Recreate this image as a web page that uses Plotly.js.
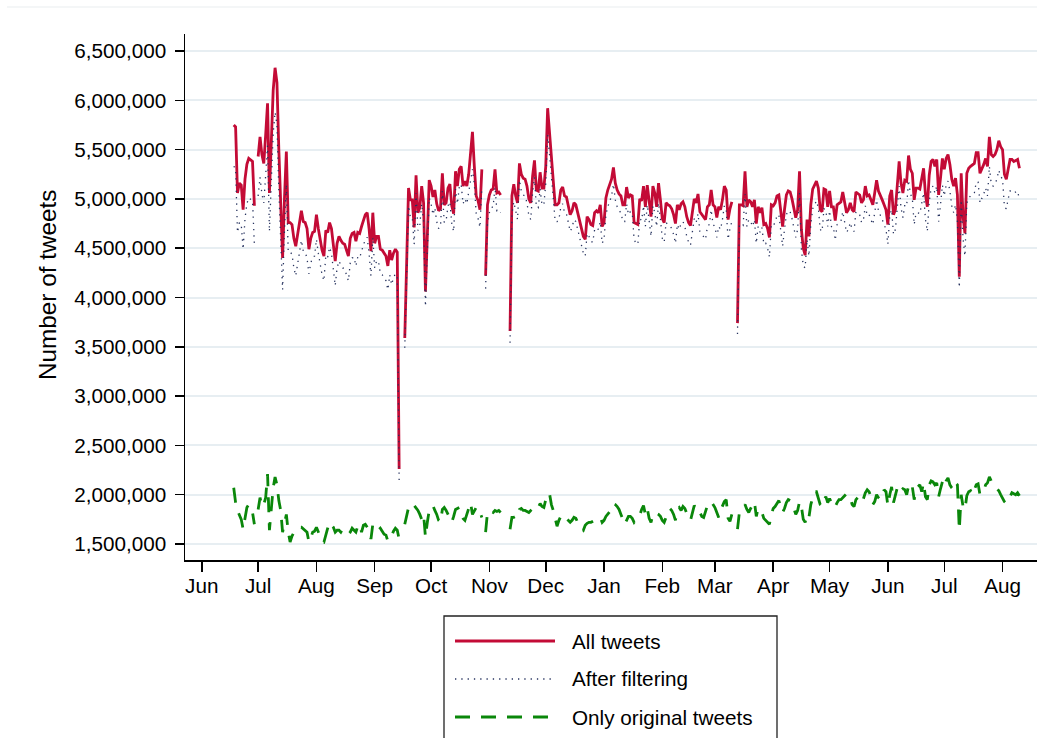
<!DOCTYPE html>
<html>
<head>
<meta charset="utf-8">
<script src="https://cdn.plot.ly/plotly-3.0.1.min.js"></script>
<style>html,body{margin:0;padding:0;background:#fff;}#chart{width:1049px;height:738px;}</style>
</head>
<body>
<div id="chart"></div>
<script>
// Daily series, first day = START_DATE, values in millions of tweets (null = missing day)
const START_DATE = '2018-06-18';

const allTweets = [
5.75,5.73,5.06,5.16,5.14,4.89,5.20,5.35,5.41,5.39,
5.38,4.93,null,5.43,5.63,5.45,5.36,5.65,5.97,5.06,
5.60,6.10,6.33,6.18,5.50,4.90,4.40,5.00,5.48,4.76,
4.76,4.74,4.60,4.52,4.65,4.80,4.88,4.77,4.76,4.70,
4.49,4.60,4.66,4.67,4.84,4.70,4.59,4.48,4.42,4.68,
4.66,4.76,4.70,4.55,4.37,4.55,4.62,4.58,4.55,4.54,
4.48,4.42,4.60,4.65,4.66,4.57,4.66,4.65,4.72,4.79,
4.84,4.86,4.70,4.47,4.86,4.55,4.62,4.62,4.49,4.48,
4.45,4.42,4.32,4.48,4.38,4.45,4.49,4.46,2.26,null,
null,3.59,4.40,5.11,4.99,4.99,4.71,5.24,4.86,4.91,
5.13,4.96,4.06,4.70,5.19,5.13,5.02,5.09,4.95,4.88,
4.90,5.26,4.94,4.96,5.11,5.15,4.93,4.85,5.28,5.13,
5.30,5.33,5.13,5.18,5.13,5.25,5.45,5.68,5.33,5.03,
4.98,4.89,5.30,null,4.22,4.94,5.04,5.09,5.10,5.30,
5.06,5.07,5.04,null,null,null,null,3.66,5.03,5.15,
5.03,4.96,5.36,5.25,5.21,5.20,5.13,5.00,4.96,5.23,
5.39,5.09,5.08,5.27,5.11,5.11,5.33,5.92,5.64,5.35,
5.18,4.94,4.94,4.96,5.09,5.12,5.03,5.02,4.93,4.84,
4.88,4.96,4.94,4.86,4.78,4.70,4.62,4.59,4.82,4.79,
4.74,4.73,4.86,4.88,4.86,4.94,4.72,4.76,5.01,5.09,
5.15,5.20,5.32,5.16,5.09,5.05,5.03,4.94,4.94,5.12,
5.01,5.04,5.03,4.76,4.75,4.74,5.00,4.98,5.13,4.92,
5.14,4.95,4.82,5.13,5.06,4.92,5.16,4.99,4.80,4.76,
4.96,4.94,4.93,4.90,4.84,4.75,4.94,4.89,4.95,4.97,
4.92,4.82,4.76,4.73,4.86,5.00,4.96,5.05,4.87,4.84,
4.82,4.79,4.92,4.94,5.09,4.94,4.92,4.81,4.92,4.89,
4.99,5.13,5.09,4.79,4.90,4.97,null,null,3.74,4.94,
4.94,4.93,5.28,4.92,4.99,4.97,4.92,4.99,4.75,4.92,
4.86,4.91,4.74,4.75,4.70,4.61,4.94,4.93,4.96,5.03,
5.04,4.86,4.72,4.89,5.04,5.08,5.07,5.00,4.90,4.81,
4.89,5.28,4.69,4.50,4.43,4.79,4.62,4.94,5.10,5.15,
5.18,5.11,4.89,4.87,5.10,5.09,4.92,5.08,4.92,4.92,
4.78,4.94,4.96,4.97,5.07,4.96,4.86,4.89,4.96,4.89,
4.87,5.07,5.05,5.04,4.96,4.99,5.13,5.03,5.04,4.99,
4.94,5.06,5.19,5.08,5.04,4.99,4.94,4.89,4.74,5.03,
5.09,4.84,4.89,5.11,5.38,5.16,5.06,5.19,5.18,5.44,
5.30,5.26,4.99,5.11,5.11,5.10,5.20,5.31,5.04,4.92,
5.24,5.38,5.40,5.33,5.40,5.04,5.21,5.41,5.30,5.41,
5.45,5.35,5.20,5.13,5.21,5.04,4.21,5.26,4.82,4.65,
5.26,5.31,5.33,5.35,5.36,5.47,5.47,5.26,5.30,5.35,
5.41,5.33,5.63,5.45,5.43,5.45,5.50,5.59,5.53,5.50,
5.25,5.20,5.30,5.40,5.40,5.38,5.39,5.40,5.31
];

const afterFiltering = [
5.33,5.31,4.66,4.76,4.74,4.49,4.80,4.95,5.01,4.99,
4.98,4.54,null,5.03,5.22,5.05,4.96,5.24,5.54,4.67,
5.19,5.67,5.88,5.75,5.09,4.50,4.08,4.68,5.15,4.46,
4.46,4.44,4.30,4.22,4.35,4.50,4.58,4.47,4.46,4.40,
4.24,4.35,4.41,4.42,4.59,4.45,4.34,4.23,4.17,4.43,
4.41,4.51,4.45,4.30,4.12,4.30,4.37,4.33,4.30,4.29,
4.23,4.17,4.35,4.40,4.41,4.32,4.41,4.40,4.47,4.54,
4.59,4.61,4.45,4.22,4.61,4.30,4.37,4.37,4.24,4.23,
4.20,4.17,4.08,4.23,4.13,4.20,4.24,4.21,2.15,null,
null,3.49,4.25,4.93,4.81,4.81,4.54,5.06,4.68,4.73,
4.95,4.78,3.91,4.53,5.01,4.95,4.84,4.91,4.77,4.70,
4.72,5.08,4.76,4.78,4.93,4.97,4.75,4.67,5.10,4.95,
5.12,5.15,4.95,5.00,4.95,5.07,5.20,5.30,5.15,4.85,
4.80,4.71,5.12,null,4.09,4.76,4.86,4.91,4.92,5.12,
4.88,4.89,4.86,null,null,null,null,3.54,4.85,4.97,
4.86,4.79,5.19,5.08,5.04,5.03,4.96,4.83,4.79,5.06,
5.22,4.92,4.91,5.10,4.94,4.94,5.16,5.65,5.45,5.18,
5.01,4.77,4.77,4.79,4.92,4.95,4.86,4.85,4.76,4.67,
4.71,4.79,4.77,4.69,4.61,4.53,4.45,4.42,4.65,4.62,
4.57,4.56,4.69,4.71,4.69,4.77,4.55,4.59,4.84,4.92,
4.98,5.03,5.15,4.99,4.92,4.88,4.86,4.77,4.77,4.95,
4.84,4.87,4.86,4.59,4.55,4.54,4.80,4.78,4.93,4.72,
4.94,4.75,4.62,4.93,4.86,4.72,4.96,4.79,4.60,4.56,
4.76,4.74,4.73,4.70,4.64,4.55,4.74,4.69,4.75,4.77,
4.72,4.62,4.56,4.53,4.66,4.80,4.76,4.85,4.67,4.64,
4.62,4.59,4.72,4.74,4.89,4.74,4.72,4.61,4.72,4.69,
4.79,4.93,4.89,4.59,4.70,4.77,null,null,3.63,4.74,
4.74,4.73,5.05,4.72,4.79,4.77,4.72,4.79,4.55,4.72,
4.66,4.71,4.54,4.55,4.50,4.41,4.74,4.73,4.76,4.83,
4.84,4.66,4.52,4.69,4.84,4.88,4.87,4.80,4.70,4.61,
4.69,5.06,4.49,4.32,4.30,4.59,4.42,4.74,4.90,4.95,
4.98,4.91,4.69,4.67,4.90,4.89,4.72,4.88,4.72,4.72,
4.58,4.74,4.76,4.77,4.87,4.76,4.66,4.69,4.76,4.69,
4.67,4.87,4.85,4.84,4.76,4.79,4.93,4.83,4.84,4.79,
4.74,4.86,4.99,4.88,4.84,4.79,4.74,4.69,4.54,4.83,
4.89,4.64,4.69,4.91,5.13,4.91,4.81,4.94,4.93,5.19,
5.05,5.01,4.74,4.86,4.86,4.85,4.95,5.06,4.79,4.67,
4.97,5.11,5.13,5.06,5.13,4.77,4.94,5.14,5.03,5.14,
5.18,5.08,4.93,4.86,4.94,4.77,4.10,4.99,4.60,4.42,
4.96,5.01,5.03,5.05,5.06,5.17,5.17,4.96,5.00,5.05,
5.11,5.03,5.33,5.15,5.13,5.15,5.20,5.29,5.23,5.20,
4.92,4.90,5.00,5.08,5.08,5.06,5.07,5.08,4.99
];

const originalOnly = [
2.07,1.92,1.84,1.80,1.75,1.65,1.78,1.87,1.90,1.85,
1.82,1.70,null,1.85,1.97,1.88,1.90,1.97,2.21,1.64,
1.84,2.07,2.18,2.10,1.94,1.84,1.62,1.70,1.80,1.62,
1.52,1.58,1.62,1.65,1.66,1.67,1.67,1.65,1.64,1.62,
1.52,1.56,1.62,1.63,1.67,1.62,1.57,1.53,1.52,1.60,
1.66,1.72,1.70,1.67,1.62,1.64,1.64,1.62,1.65,1.64,
1.62,1.60,1.62,1.66,1.64,1.62,1.68,1.70,1.62,1.69,
1.70,1.67,1.64,1.55,1.70,1.68,1.67,1.64,1.66,1.63,
1.60,1.59,1.53,1.56,1.58,1.63,1.66,1.64,1.55,null,
null,1.70,1.80,1.87,1.85,1.86,1.89,1.87,1.84,1.80,
1.75,1.80,1.57,1.72,1.84,1.87,1.89,1.84,1.80,1.74,
1.72,1.85,1.87,1.84,1.80,1.76,1.72,1.78,1.85,1.86,
1.87,1.80,1.76,1.74,1.80,1.86,1.92,1.80,1.84,1.87,
1.87,1.82,1.77,null,1.62,1.82,1.84,1.83,1.82,1.84,
1.83,1.84,1.82,null,null,null,null,1.65,1.77,1.77,
1.78,1.77,1.85,1.86,1.84,1.84,1.83,1.82,1.84,1.86,
1.87,1.89,1.87,1.91,1.88,1.87,1.95,2.01,2.01,1.90,
1.84,1.75,1.68,1.74,1.78,1.80,1.78,1.77,1.75,1.72,
1.74,1.77,1.76,1.72,1.70,1.66,1.64,1.69,1.71,1.72,
1.72,1.73,1.74,1.75,1.76,1.77,1.72,1.74,1.78,1.80,
1.82,1.85,1.91,1.90,1.88,1.85,1.80,1.75,1.70,1.74,
1.78,1.78,1.76,1.72,1.74,1.76,1.79,1.85,1.89,1.80,
1.86,1.76,1.72,1.80,1.79,1.81,1.80,1.78,1.74,1.72,
1.78,1.82,1.86,1.84,1.80,1.74,1.85,1.87,1.84,1.88,
1.86,1.80,1.76,1.74,1.83,1.89,1.86,1.87,1.82,1.78,
1.77,1.84,1.89,1.92,1.93,1.90,1.87,1.82,1.77,1.84,
1.88,1.93,1.95,1.76,1.73,1.80,null,null,1.65,1.82,
1.85,1.87,1.90,1.85,1.82,1.86,1.89,1.93,1.78,1.86,
1.84,1.82,1.76,1.74,1.72,1.70,1.80,1.86,1.88,1.91,
1.94,1.88,1.82,1.86,1.92,1.95,1.94,1.90,1.86,1.80,
1.84,1.93,1.88,1.75,1.72,1.80,1.77,1.90,1.97,2.03,
2.03,1.97,1.90,1.88,1.95,1.98,1.92,1.96,1.92,1.93,
1.88,1.92,1.95,1.95,1.97,1.98,2.01,1.99,1.97,1.90,
1.88,1.95,1.97,1.93,1.92,1.96,2.02,2.05,2.03,1.98,
1.90,1.93,2.00,1.97,1.95,1.98,2.05,2.03,1.89,2.00,
2.08,1.92,2.00,2.07,2.09,2.04,2.06,2.05,2.00,2.09,
2.12,2.08,1.95,2.04,2.08,2.10,2.03,2.12,1.98,1.95,
2.10,2.14,2.13,2.10,2.12,1.98,2.06,2.13,2.08,2.14,
2.17,2.10,2.07,2.05,2.12,2.10,1.64,2.00,1.88,1.85,
1.99,2.03,2.04,2.00,2.05,2.10,2.11,2.00,2.02,2.04,
2.10,2.12,2.18,2.13,2.10,2.07,2.05,2.04,2.00,1.96,
1.93,1.91,1.94,1.98,2.02,2.01,2.00,2.02,1.99
];

const seriesNames = ['All tweets', 'After filtering', 'Only original tweets'];
const yAxisTitle = 'Number of tweets';
const monthTicks = ['2018-06-01','2018-07-01','2018-08-01','2018-09-01','2018-10-01','2018-11-01','2018-12-01',
  '2019-01-01','2019-02-01','2019-03-01','2019-04-01','2019-05-01','2019-06-01','2019-07-01','2019-08-01'];
const monthLabels = ['Jun','Jul','Aug','Sep','Oct','Nov','Dec','Jan','Feb','Mar','Apr','May','Jun','Jul','Aug'];
const yTicks = [1500000,2000000,2500000,3000000,3500000,4000000,4500000,5000000,5500000,6000000,6500000];

// build date list for the daily values
function buildDates(start, n) {
  const out = [];
  const d0 = new Date(start + 'T00:00:00Z');
  for (let i = 0; i < n; i++) {
    const d = new Date(d0.getTime() + i * 86400000);
    out.push(d.toISOString().slice(0, 10));
  }
  return out;
}
const dates = buildDates(START_DATE, allTweets.length);
const toCount = arr => arr.map(v => v === null ? null : Math.round(v * 1e6));

const FONT = 'Liberation Sans, Arial, Helvetica, sans-serif';
const FS = 20.7;
const lineStyles = [
  { color: '#c30b36', width: 2.8 },
  { color: '#27335f', width: 1.3, dash: '1.3px,5px' },
  { color: '#0a870a', width: 2.8, dash: '15px,11px' }
];
const seriesValues = [allTweets, afterFiltering, originalOnly];

const traces = seriesValues.map((vals, i) => ({
  x: dates, y: toCount(vals), name: seriesNames[i], type: 'scatter', mode: 'lines',
  line: lineStyles[i], connectgaps: false, showlegend: false
}));

const L = 185, R = 1037, T = 34, B = 560;
const px2x = px => (px - L) / (R - L);
const px2y = py => (B - py) / (B - T);

// hand-drawn legend (box partly below the page edge, as in the reference)
const legendRowsY = [641, 679, 717];
const legendShapes = [];
const legendNotes = [];
seriesNames.forEach((name, i) => {
  legendShapes.push({ type: 'line', xref: 'paper', yref: 'paper',
    x0: px2x(455), x1: px2x(555), y0: px2y(legendRowsY[i]), y1: px2y(legendRowsY[i]),
    line: lineStyles[i] });
  legendNotes.push({ text: name, xref: 'paper', yref: 'paper', x: px2x(570), y: px2y(legendRowsY[i]),
    xanchor: 'left', yanchor: 'middle', showarrow: false,
    font: { family: FONT, size: FS, color: '#000' } });
});

const layout = {
  width: 1049, height: 738,
  margin: { l: L, r: 1049 - R, t: T, b: 738 - B, pad: 0 },
  paper_bgcolor: '#ffffff', plot_bgcolor: '#ffffff',
  font: { family: FONT, size: FS, color: '#000' },
  showlegend: false,
  xaxis: {
    type: 'date',
    range: ['2018-05-23 02:00', '2019-08-19 08:00'],
    tickvals: monthTicks, ticktext: monthLabels,
    showgrid: false, zeroline: false,
    showline: true, linecolor: '#000', linewidth: 1.5,
    ticks: 'outside', ticklen: 10, tickwidth: 1.5, tickcolor: '#000',
    ticklabelstandoff: -3,
    tickfont: { family: FONT, size: FS, color: '#000' }
  },
  yaxis: {
    range: [1337700, 6672400],
    tickvals: yTicks, tickformat: ',',
    showgrid: true, gridcolor: '#e7eef2', gridwidth: 2,
    zeroline: false,
    showline: true, linecolor: '#000', linewidth: 1.5,
    ticks: 'outside', ticklen: 9, tickwidth: 1.5, tickcolor: '#000',
    ticklabelstandoff: 4,
    tickfont: { family: FONT, size: FS, color: '#000' }
  },
  annotations: [
    { text: yAxisTitle, xref: 'paper', yref: 'paper', x: px2x(47), y: px2y(285),
      xanchor: 'center', yanchor: 'middle', textangle: -90, showarrow: false,
      font: { family: FONT, size: 24.3, color: '#000' } }
  ].concat(legendNotes),
  shapes: [
    { type: 'line', xref: 'paper', yref: 'paper', x0: px2x(7), x1: px2x(1037), y0: px2y(7), y1: px2y(7),
      line: { color: '#e9edef', width: 1.2 } },
    { type: 'rect', xref: 'paper', yref: 'paper', x0: px2x(444), x1: px2x(777), y0: px2y(616), y1: px2y(760),
      line: { color: '#222', width: 1.3 }, fillcolor: 'rgba(0,0,0,0)' }
  ].concat(legendShapes)
};

Plotly.newPlot('chart', traces, layout, { staticPlot: true, displayModeBar: false });
</script>
</body>
</html>
